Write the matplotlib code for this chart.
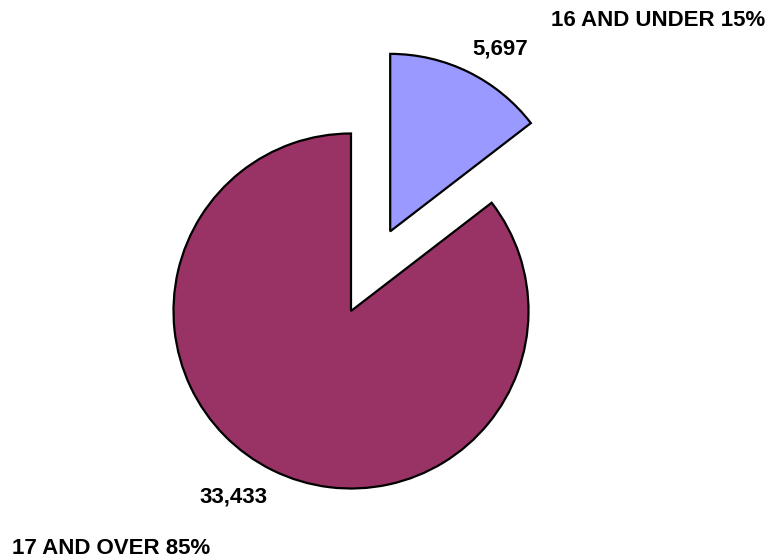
import matplotlib.pyplot as plt

# ages of the two groups and their counts
categories = ['16 AND UNDER', '17 AND OVER']
counts = [5697, 33433]
percents = [15, 85]
slice_colors = ['#9999FF', '#993366']

W, H = 770, 559
R = 177.5
fig = plt.figure(figsize=(W / 100, H / 100), dpi=100)
ax = fig.add_axes([0, 0, 1, 1])

# explode is an absolute offset, so scale it by the radius
ax.pie(counts, colors=slice_colors, startangle=90, counterclock=False,
       explode=[0.5 * R, 0], radius=R, center=(351, H - 311),
       wedgeprops=dict(edgecolor='black', linewidth=1.6))
ax.set_xlim(0, W)
ax.set_ylim(0, H)
ax.set_aspect('equal')
ax.axis('off')

font = dict(family=['Liberation Sans', 'DejaVu Sans'], fontsize=16,
            fontweight='bold', ha='left', va='baseline')

# value labels next to the slices, category labels at the corners
value_pos = [(472, 55), (199, 502)]
name_pos = [(551, 26.5), (12.5, 554)]
for i in range(len(counts)):
    ax.text(value_pos[i][0], H - value_pos[i][1], '{:,}'.format(counts[i]), **font)
    ax.text(name_pos[i][0], H - name_pos[i][1],
            categories[i] + ' ' + str(percents[i]) + '%', **font)

fig.savefig('out.png', dpi=100)
